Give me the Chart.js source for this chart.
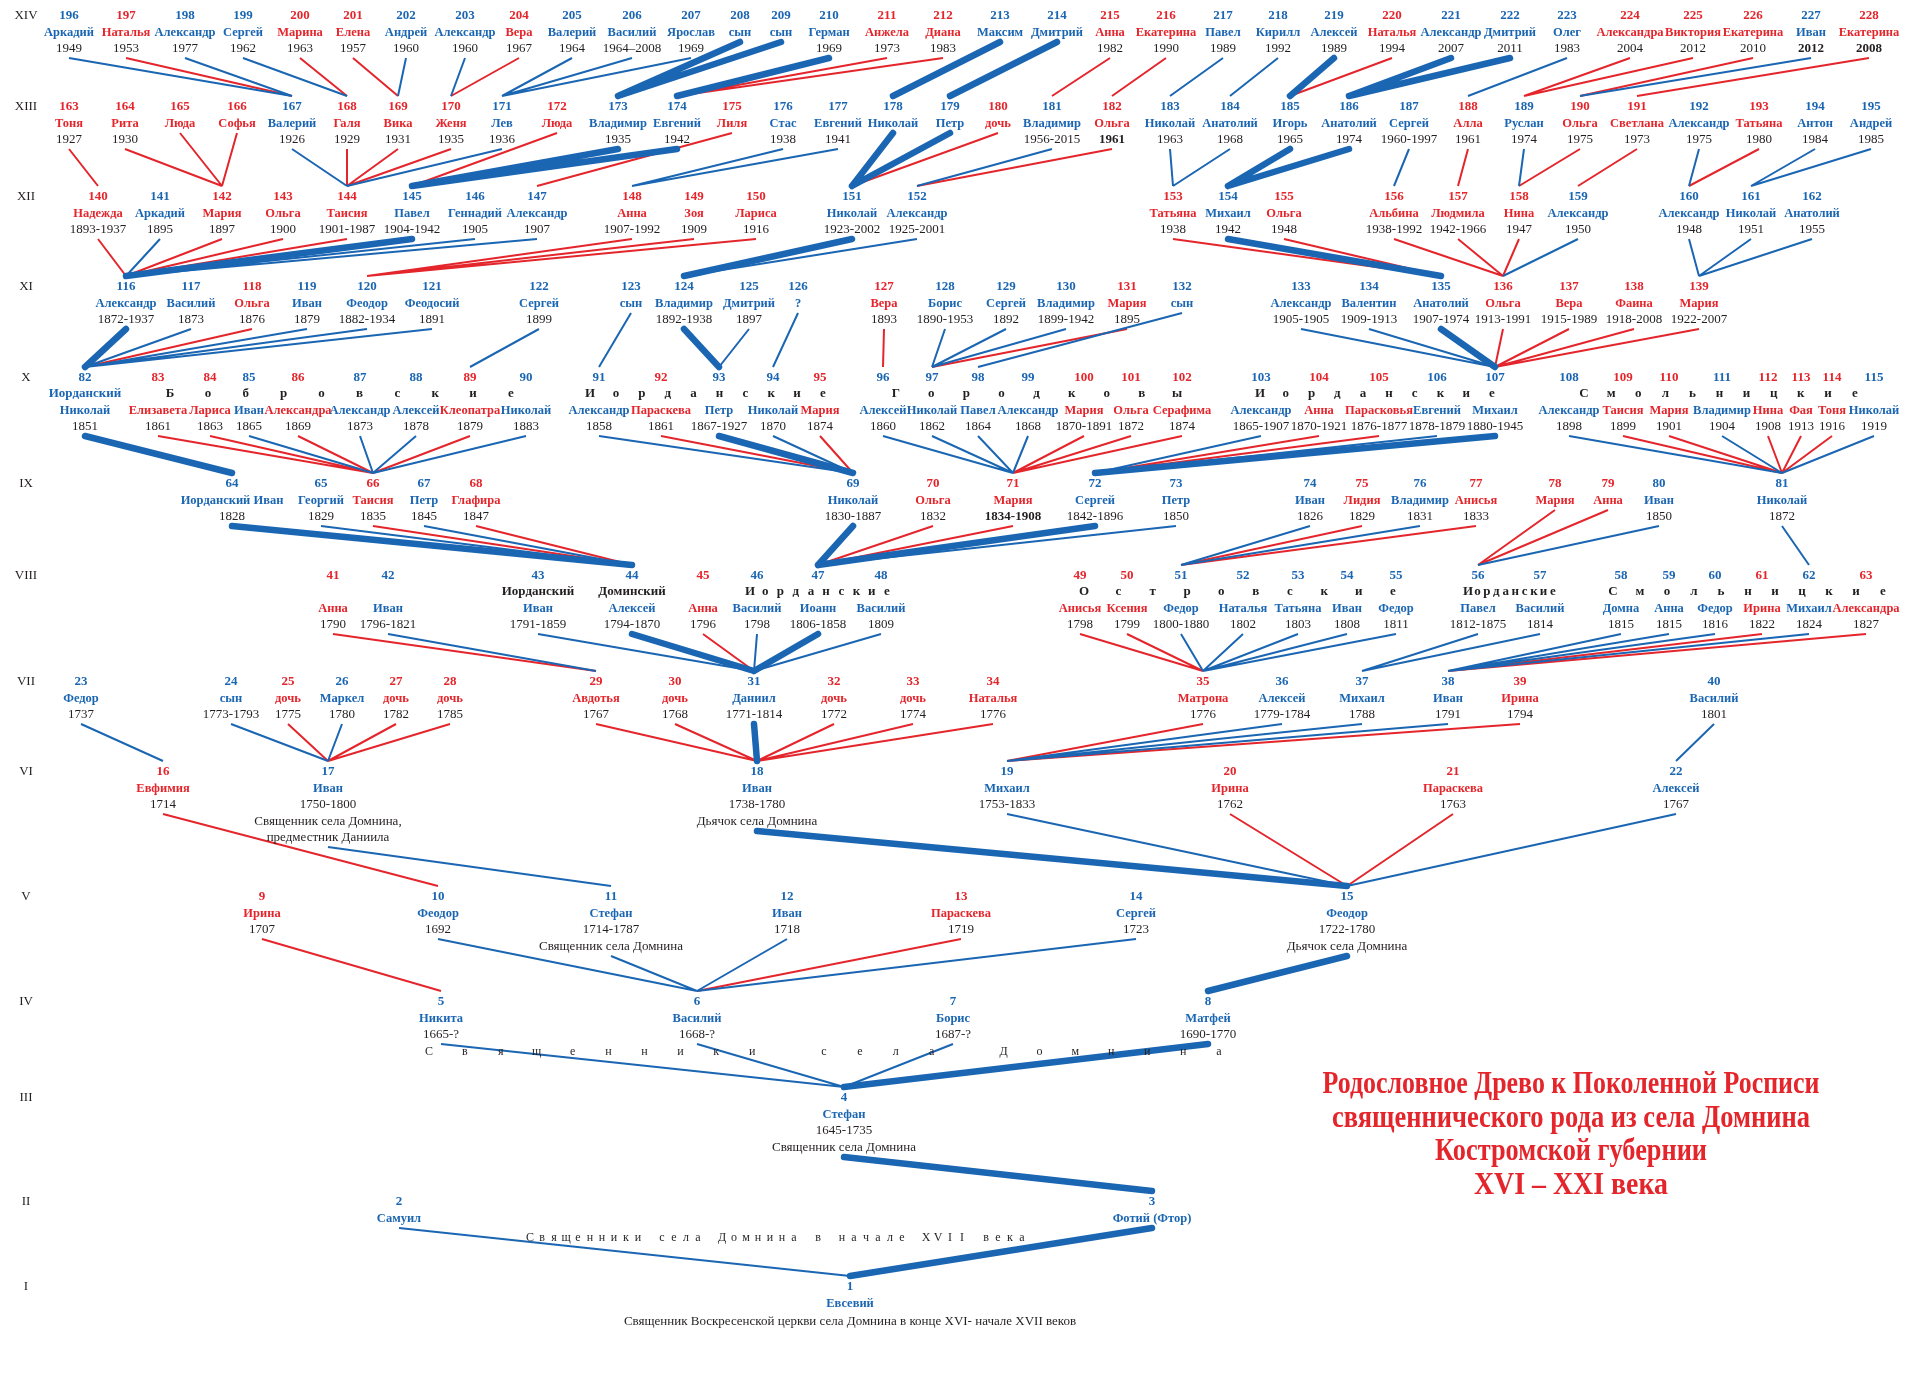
<!DOCTYPE html>
<html lang="ru">
<head>
<meta charset="utf-8">
<title>Родословное Древо</title>
<script src="https://cdn.jsdelivr.net/npm/chart.js@4.4.1/dist/chart.umd.min.js"></script>
<style>
  html, body { margin: 0; padding: 0; background: #fff; }
  #wrap { width: 1920px; height: 1374px; position: relative; }
</style>
</head>
<body>
<div id="wrap"><canvas id="tree"></canvas></div>
<script>
// Generations, from the bottom (I) to the top (XIV)
const genNames = ['I', 'II', 'III', 'IV', 'V', 'VI', 'VII', 'VIII', 'IX', 'X', 'XI', 'XII', 'XIII', 'XIV'];
const genLevel = [1287, 1202, 1098, 1002, 897, 772, 682, 576, 484, 378, 287, 197, 107, 16];
const genFirst = [1, 2, 4, 5, 9, 16, 23, 41, 64, 82, 116, 140, 163, 196];

// People, numbered from 1 (array index = number - 1)
const names = [
  'Евсевий',
  'Самуил', 'Фотий (Фтор)',
  'Стефан',
  'Никита', 'Василий', 'Борис', 'Матфей',
  'Ирина', 'Феодор', 'Стефан', 'Иван', 'Параскева', 'Сергей', 'Феодор',
  'Евфимия', 'Иван', 'Иван', 'Михаил', 'Ирина', 'Параскева', 'Алексей',
  'Федор', 'сын', 'дочь', 'Маркел', 'дочь', 'дочь', 'Авдотья', 'дочь', 'Даниил', 'дочь', 'дочь', 'Наталья',
  'Матрона', 'Алексей', 'Михаил', 'Иван', 'Ирина', 'Василий',
  'Анна', 'Иван', 'Иван', 'Алексей', 'Анна', 'Василий', 'Иоанн', 'Василий', 'Анисья', 'Ксения', 'Федор',
  'Наталья', 'Татьяна', 'Иван', 'Федор', 'Павел', 'Василий', 'Домна', 'Анна', 'Федор', 'Ирина', 'Михаил', 'Александра',
  'Иорданский Иван', 'Георгий', 'Таисия', 'Петр', 'Глафира', 'Николай', 'Ольга', 'Мария', 'Сергей', 'Петр',
  'Иван', 'Лидия', 'Владимир', 'Анисья', 'Мария', 'Анна', 'Иван', 'Николай',
  'Николай', 'Елизавета', 'Лариса', 'Иван', 'Александра', 'Александр', 'Алексей', 'Клеопатра', 'Николай',
  'Александр', 'Параскева', 'Петр', 'Николай', 'Мария', 'Алексей', 'Николай', 'Павел', 'Александр', 'Мария',
  'Ольга', 'Серафима', 'Александр', 'Анна', 'Парасковья', 'Евгений', 'Михаил', 'Александр', 'Таисия', 'Мария',
  'Владимир', 'Нина', 'Фая', 'Тоня', 'Николай',
  'Александр', 'Василий', 'Ольга', 'Иван', 'Феодор', 'Феодосий', 'Сергей', 'сын', 'Владимир', 'Дмитрий', '?',
  'Вера', 'Борис', 'Сергей', 'Владимир', 'Мария', 'сын', 'Александр', 'Валентин', 'Анатолий', 'Ольга', 'Вера',
  'Фаина', 'Мария',
  'Надежда', 'Аркадий', 'Мария', 'Ольга', 'Таисия', 'Павел', 'Геннадий', 'Александр', 'Анна', 'Зоя', 'Лариса',
  'Николай', 'Александр', 'Татьяна', 'Михаил', 'Ольга', 'Альбина', 'Людмила', 'Нина', 'Александр', 'Александр',
  'Николай', 'Анатолий',
  'Тоня', 'Рита', 'Люда', 'Софья', 'Валерий', 'Галя', 'Вика', 'Женя', 'Лев', 'Люда', 'Владимир', 'Евгений',
  'Лиля', 'Стас', 'Евгений', 'Николай', 'Петр', 'дочь', 'Владимир', 'Ольга', 'Николай', 'Анатолий', 'Игорь',
  'Анатолий', 'Сергей', 'Алла', 'Руслан', 'Ольга', 'Светлана', 'Александр', 'Татьяна', 'Антон', 'Андрей',
  'Аркадий', 'Наталья', 'Александр', 'Сергей', 'Марина', 'Елена', 'Андрей', 'Александр', 'Вера', 'Валерий',
  'Василий', 'Ярослав', 'сын', 'сын', 'Герман', 'Анжела', 'Диана', 'Максим', 'Дмитрий', 'Анна', 'Екатерина',
  'Павел', 'Кирилл', 'Алексей', 'Наталья', 'Александр', 'Дмитрий', 'Олег', 'Александра', 'Виктория',
  'Екатерина', 'Иван', 'Екатерина'
];

const years = [
  '',
  '', '',
  '1645-1735',
  '1665-?', '1668-?', '1687-?', '1690-1770',
  '1707', '1692', '1714-1787', '1718', '1719', '1723', '1722-1780',
  '1714', '1750-1800', '1738-1780', '1753-1833', '1762', '1763', '1767',
  '1737', '1773-1793', '1775', '1780', '1782', '1785', '1767', '1768', '1771-1814', '1772', '1774', '1776',
  '1776', '1779-1784', '1788', '1791', '1794', '1801',
  '1790', '1796-1821', '1791-1859', '1794-1870', '1796', '1798', '1806-1858', '1809', '1798', '1799',
  '1800-1880', '1802', '1803', '1808', '1811', '1812-1875', '1814', '1815', '1815', '1816', '1822', '1824', '1827',
  '1828', '1829', '1835', '1845', '1847', '1830-1887', '1832', '1834-1908', '1842-1896', '1850',
  '1826', '1829', '1831', '1833', '', '', '1850', '1872',
  '1851', '1861', '1863', '1865', '1869', '1873', '1878', '1879', '1883',
  '1858', '1861', '1867-1927', '1870', '1874', '1860', '1862', '1864', '1868', '1870-1891',
  '1872', '1874', '1865-1907', '1870-1921', '1876-1877', '1878-1879', '1880-1945', '1898', '1899', '1901',
  '1904', '1908', '1913', '1916', '1919',
  '1872-1937', '1873', '1876', '1879', '1882-1934', '1891', '1899', '', '1892-1938', '1897', '',
  '1893', '1890-1953', '1892', '1899-1942', '1895', '', '1905-1905', '1909-1913', '1907-1974', '1913-1991',
  '1915-1989', '1918-2008', '1922-2007',
  '1893-1937', '1895', '1897', '1900', '1901-1987', '1904-1942', '1905', '1907', '1907-1992', '1909', '1916',
  '1923-2002', '1925-2001', '1938', '1942', '1948', '1938-1992', '1942-1966', '1947', '1950', '1948', '1951', '1955',
  '1927', '1930', '', '', '1926', '1929', '1931', '1935', '1936', '', '1935', '1942',
  '', '1938', '1941', '', '', '', '1956-2015', '1961', '1963', '1968', '1965',
  '1974', '1960-1997', '1961', '1974', '1975', '1973', '1975', '1980', '1984', '1985',
  '1949', '1953', '1977', '1962', '1963', '1957', '1960', '1960', '1967', '1964',
  '1964–2008', '1969', '', '', '1969', '1973', '1983', '', '', '1982', '1990',
  '1989', '1992', '1989', '1994', '2007', '2011', '1983', '2004', '2012', '2010', '2012', '2008'
];

// b = blue (sons), r = red (daughters), in groups of ten
const sexes = 'bbbbbbbbrb' + 'bbrbbrbbbr' + 'rbbbrbrrrr' + 'brrrrbbbrb' + 'rbbbrbbbrr' +
              'bbbbbbbbbb' + 'rbrbbrbrbr' + 'rbbbrbrrrb' + 'bbrrbrbbrb' + 'brbbrbbbbr' +
              'rrbrrbbbrr' + 'brrrbbbrbb' + 'bbbbbbrbbb' + 'rbbbbrrrrr' + 'brrrbbbrrr' +
              'bbrbrrrrbb' + 'bbrrrrbrrr' + 'brbbrbbbbr' + 'brbbbbbrbr' + 'rbrbbbrbbr' +
              'rbbrbbbbbb' + 'rrbbrrbbbr' + 'bbbrrrbr';

// place of each person along the horizontal axis
const slot = [
  850,
  399, 1152,
  844,
  441, 697, 953, 1208,
  262, 438, 611, 787, 961, 1136, 1347,
  163, 328, 757, 1007, 1230, 1453, 1676,
  81, 231, 288, 342, 396, 450, 596, 675, 754, 834, 913, 993, 1203, 1282, 1362, 1448, 1520, 1714,
  333, 388, 538, 632, 703, 757, 818, 881, 1080, 1127, 1181, 1243, 1298, 1347, 1396, 1478, 1540,
  1621, 1669, 1715, 1762, 1809, 1866,
  232, 321, 373, 424, 476, 853, 933, 1013, 1095, 1176, 1310, 1362, 1420, 1476, 1555, 1608, 1659, 1782,
  85, 158, 210, 249, 298, 360, 416, 470, 526, 599, 661, 719, 773, 820, 883, 932, 978, 1028, 1084,
  1131, 1182, 1261, 1319, 1379, 1437, 1495, 1569, 1623, 1669, 1722, 1768, 1801, 1832, 1874,
  126, 191, 252, 307, 367, 432, 539, 631, 684, 749, 798, 884, 945, 1006, 1066, 1127, 1182, 1301, 1369,
  1441, 1503, 1569, 1634, 1699,
  98, 160, 222, 283, 347, 412, 475, 537, 632, 694, 756, 852, 917, 1173, 1228, 1284, 1394, 1458, 1519,
  1578, 1689, 1751, 1812,
  69, 125, 180, 237, 292, 347, 398, 451, 502, 557, 618, 677, 732, 783, 838, 893, 950, 998, 1052, 1112,
  1170, 1230, 1290, 1349, 1409, 1468, 1524, 1580, 1637, 1699, 1759, 1815, 1871,
  69, 126, 185, 243, 300, 353, 406, 465, 519, 572, 632, 691, 740, 781, 829, 887, 943, 1000, 1057, 1110,
  1166, 1223, 1278, 1334, 1392, 1451, 1510, 1567, 1630, 1693, 1753, 1811, 1869
];

// number of the parent of each person (0 = root)
const parentOf = [
  0,
  1, 1,
  3,
  4, 4, 4, 4,
  5, 6, 6, 6, 6, 6, 8,
  10, 11, 15, 15, 15, 15, 15,
  16, 17, 17, 17, 17, 17, 18, 18, 18, 18, 18, 18, 19, 19, 19, 19, 19, 22,
  29, 29, 31, 31, 31, 31, 31, 31, 35, 35, 35, 35, 35, 35, 35, 37, 37, 38, 38, 38, 38, 38, 38,
  44, 44, 44, 44, 44, 47, 47, 47, 47, 47, 51, 51, 51, 51, 56, 56, 56, 62,
  64, 66, 66, 66, 66, 66, 66, 66, 66, 69, 69, 69, 69, 69, 71, 71, 71, 71, 71, 71, 71,
  72, 72, 72, 72, 72, 81, 81, 81, 81, 81, 81, 81, 81,
  82, 82, 82, 82, 82, 82, 89, 91, 93, 93, 94, 96, 97, 97, 97, 97, 98, 107, 107, 107, 107, 107, 107, 107,
  116, 116, 116, 116, 116, 116, 116, 116, 120, 120, 120, 124, 124, 135, 135, 135, 136, 136, 136, 136,
  139, 139, 139,
  140, 142, 142, 142, 144, 144, 144, 144, 144, 145, 145, 145, 147, 148, 148, 151, 151, 151, 152, 152,
  153, 153, 154, 154, 156, 157, 158, 158, 159, 160, 160, 161, 161,
  167, 167, 167, 168, 168, 169, 169, 170, 170, 171, 171, 171, 173, 173, 174, 174, 174, 178, 179, 181,
  182, 183, 184, 185, 185, 186, 186, 188, 189, 189, 190, 190, 191
];

// the direct line of the family (thick lines)
const mainLine = [3, 4, 8, 15, 18, 31, 44, 47, 64, 69, 72, 82, 93, 107, 116, 124, 135, 145, 151, 154,
                  173, 174, 178, 179, 185, 186, 208, 209, 210, 213, 214, 219, 221, 222];

const notes = {
  1: ['Священник Воскресенской церкви села Домнина в конце XVI- начале XVII веков'],
  4: ['Священник села Домнина'],
  11: ['Священник села Домнина'],
  15: ['Дьячок села Домнина'],
  17: ['Священник села Домнина,', 'предместник Даниила'],
  18: ['Дьячок села Домнина']
};
const prefixes = { 82: ['Иорданский', true], 43: ['Иорданский', false], 44: ['Доминский', false] };
const boldYears = [71, 182, 227, 228];

// family names written letter-spaced over a generation: [text, generation, from, to]
const families = [
  ['Бобровские', 10, 170, 511],
  ['Иорданские', 10, 590, 823],
  ['Городковы', 10, 896, 1177],
  ['Иорданские', 10, 1260, 1492],
  ['Смольницкие', 10, 1584, 1855],
  ['Иорданские', 8, 750, 887],
  ['Островские', 8, 1084, 1393],
  ['Иорданские', 8, 1468, 1553],
  ['Смольницкие', 8, 1613, 1883]
];
const captions = [
  ['Священники села Домнина', 4, 429, 1219],
  ['Священники села Домнина в начале XVII века', 2, 530, 1022]
];
const titleLines = [
  'Родословное Древо к Поколенной Росписи',
  'священнического рода из села Домнина',
  'Костромской губернии',
  'XVI – XXI века'
];

const BLUE = '#1b66b3', RED = '#e4262c', INK = '#231f20';
const SERIF = '"Liberation Serif", "DejaVu Serif", serif';

function genOf(n) {
  let g = 0;
  while (g + 1 < genFirst.length && genFirst[g + 1] <= n) g++;
  return g;
}
// text rows under the number; generations VIII and X carry a surname row
function rowOffsets(g) {
  return (g === 7 || g === 9) ? { surname: 16, name: 33, year: 49 } : { name: 17, year: 33 };
}
// first note line: under the years, or in their place when there are none
function noteOffset(n) {
  const off = rowOffsets(genOf(n));
  return years[n - 1] ? off.year + 17 : off.year + 2;
}
function lastOffset(n) {
  const off = rowOffsets(genOf(n));
  if (notes[n]) return noteOffset(n) + 16 * (notes[n].length - 1);
  return years[n - 1] ? off.year : off.name;
}

// edges: from under the child's text to just above the parent's number
const thinBlue = [], thinRed = [], thick = [], people = [];
names.forEach((nm, i) => {
  const n = i + 1;
  people.push({ x: slot[i], y: genLevel[genOf(n)] });
  const p = parentOf[i];
  if (!p) return;
  const from = { x: slot[i], y: genLevel[genOf(n)] + lastOffset(n) + 9 };
  const to = { x: slot[p - 1], y: genLevel[genOf(p)] - 11 };
  const target = mainLine.includes(n) ? thick : (sexes[i] === 'r' ? thinRed : thinBlue);
  target.push(from, to, { x: slot[i], y: null });
});

function spaced(ctx, text, x1, x2, py) {
  const step = (x2 - x1) / (text.length - 1);
  for (let k = 0; k < text.length; k++) ctx.fillText(text[k], x1 + k * step, py);
}

const treeText = {
  id: 'treeText',
  afterDatasetsDraw(chart) {
    const ctx = chart.ctx;
    const sx = chart.scales.x, sy = chart.scales.y;
    ctx.save();
    ctx.textAlign = 'center';
    ctx.textBaseline = 'middle';

    // generation numerals
    ctx.font = '13px ' + SERIF;
    ctx.fillStyle = INK;
    genNames.forEach((g, i) => ctx.fillText(g, sx.getPixelForValue(26), sy.getPixelForValue(genLevel[i])));

    names.forEach((name, i) => {
      const n = i + 1, g = genOf(n), off = rowOffsets(g);
      const px = sx.getPixelForValue(slot[i]);
      const py = sy.getPixelForValue(genLevel[g]);
      const colour = sexes[i] === 'r' ? RED : BLUE;
      ctx.fillStyle = colour;
      ctx.font = 'bold 13px ' + SERIF;
      ctx.fillText(String(n), px, py);
      if (prefixes[n]) {
        ctx.fillStyle = prefixes[n][1] ? colour : INK;
        ctx.fillText(prefixes[n][0], px, py + off.surname);
      }
      ctx.fillStyle = colour;
      ctx.font = 'bold 12.5px ' + SERIF;
      ctx.fillText(name, px, py + off.name);
      ctx.fillStyle = INK;
      ctx.font = (boldYears.includes(n) ? 'bold ' : '') + '13px ' + SERIF;
      if (years[i]) ctx.fillText(years[i], px, py + off.year);
      ctx.font = '13px ' + SERIF;
      (notes[n] || []).forEach((t, k) => ctx.fillText(t, px, py + noteOffset(n) + 16 * k));
    });

    ctx.fillStyle = INK;
    ctx.font = 'bold 13px ' + SERIF;
    families.forEach(([t, g, a, b]) => {
      spaced(ctx, t, sx.getPixelForValue(a), sx.getPixelForValue(b),
             sy.getPixelForValue(genLevel[g - 1]) + rowOffsets(g - 1).surname);
    });
    ctx.font = '12px ' + SERIF;
    captions.forEach(([t, g, a, b]) => {
      const line = g === 4 ? 50 : 36;
      spaced(ctx, t, sx.getPixelForValue(a), sx.getPixelForValue(b), sy.getPixelForValue(genLevel[g - 1]) + line);
    });

    // title
    const area = chart.chartArea;
    const widths = [497, 478, 272, 194];
    ctx.fillStyle = RED;
    ctx.font = 'bold 31px ' + SERIF;
    titleLines.forEach((t, k) => {
      ctx.fillText(t, area.left + 1571, area.top + 1085 + 33.5 * k, widths[k]);
    });
    ctx.restore();
  }
};

new Chart(document.getElementById('tree'), {
  type: 'scatter',
  data: {
    datasets: [
      { label: 'main line', data: thick, showLine: true, spanGaps: false, borderColor: BLUE,
        borderWidth: 6.5, borderCapStyle: 'round', pointRadius: 0, order: 0 },
      { label: 'sons', data: thinBlue, showLine: true, spanGaps: false, borderColor: BLUE,
        borderWidth: 2, pointRadius: 0, order: 1 },
      { label: 'daughters', data: thinRed, showLine: true, spanGaps: false, borderColor: RED,
        borderWidth: 2, pointRadius: 0, order: 2 },
      { label: 'people', data: people, pointRadius: 0, order: 3 }
    ]
  },
  options: {
    responsive: true,
    maintainAspectRatio: false,
    animation: false,
    events: [],
    layout: { padding: 0 },
    scales: {
      x: { type: 'linear', min: 0, max: 1920, display: false },
      y: { type: 'linear', min: 0, max: 1374, reverse: true, display: false }
    },
    plugins: { legend: { display: false }, tooltip: { enabled: false } }
  },
  plugins: [treeText]
});
</script>
</body>
</html>
